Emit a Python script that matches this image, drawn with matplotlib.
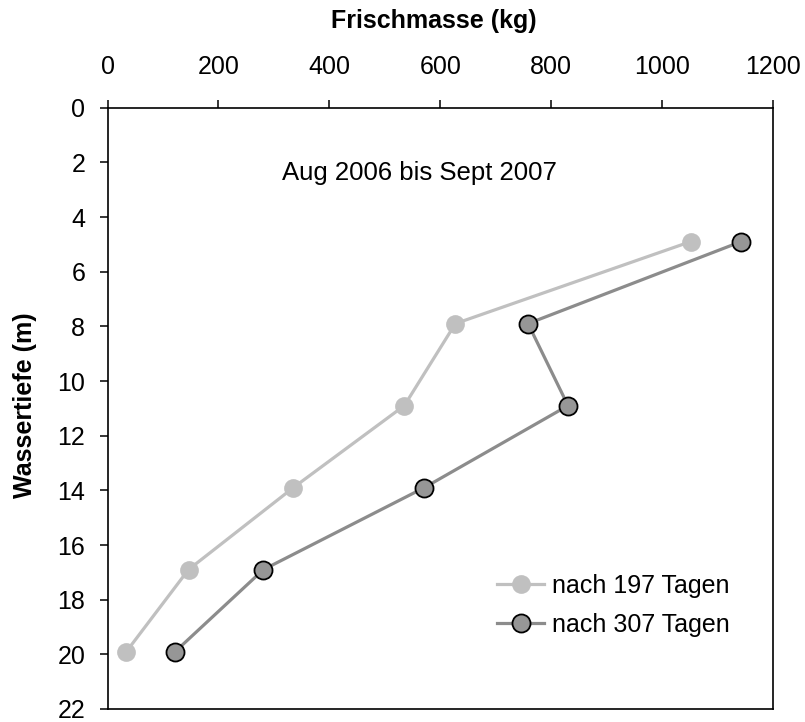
import matplotlib
matplotlib.use("Agg")
import matplotlib.pyplot as plt

plt.rcParams['font.family'] = ['Liberation Sans', 'DejaVu Sans']

# Data
depth = [4.9, 7.9, 10.9, 13.9, 16.9, 19.9]
mass_197 = [1051, 627, 535, 335, 146, 34]
mass_307 = [1142, 758, 830, 571, 281, 122]
labels = ["nach 197 Tagen", "nach 307 Tagen"]
x_ticks = [0, 200, 400, 600, 800, 1000, 1200]
y_ticks = [0, 2, 4, 6, 8, 10, 12, 14, 16, 18, 20, 22]
annotation = "Aug 2006 bis Sept 2007"
x_title = "Frischmasse (kg)"
y_title = "Wassertiefe (m)"

fig = plt.figure(figsize=(8.05, 7.22), dpi=100)
ax = fig.add_axes([107.5/805, 1-709/722, (773.3-107.5)/805, (709-107.7)/722])

ax.plot(mass_197, depth, color='#c0c0c0', lw=2.3, marker='o', ms=13.5,
        mfc='#c0c0c0', mec='#c0c0c0', mew=0, label=labels[0], zorder=3)
ax.plot(mass_307, depth, color='#8c8c8c', lw=2.3, marker='o', ms=13,
        mfc='#969696', mec='black', mew=1.3, label=labels[1], zorder=4)

ax.set_xlim(0, 1200)
ax.set_ylim(22, 0)
ax.set_xticks(x_ticks)
ax.set_yticks(y_ticks)
ax.xaxis.tick_top()
ax.tick_params(axis='both', direction='out', length=6, width=1.1, labelsize=18, colors='black')
ax.tick_params(axis='x', pad=15)
ax.tick_params(axis='y', pad=10)
for s in ax.spines.values():
    s.set_linewidth(1.2)
    s.set_color('black')

ax.xaxis.set_label_position('top')
xl = ax.set_xlabel(x_title, fontsize=18, fontweight='bold')
ax.xaxis.set_label_coords(0.49, 1 + (107.7-21)/601.3)
xl.set_va('center')
yl = ax.set_ylabel(y_title, fontsize=18, fontweight='bold')
ax.yaxis.set_label_coords(-0.124, 0.505)
yl.set_va('center')

ax.text(563, 2.65, annotation, fontsize=18.5, ha='center', va='baseline')

ax.legend(loc='center left', bbox_to_anchor=(0.585, 0.172), frameon=False,
          fontsize=18, borderpad=0, borderaxespad=0, handlelength=1.9,
          handletextpad=0.3, labelspacing=0.6)

fig.savefig("out.png", dpi=100)
